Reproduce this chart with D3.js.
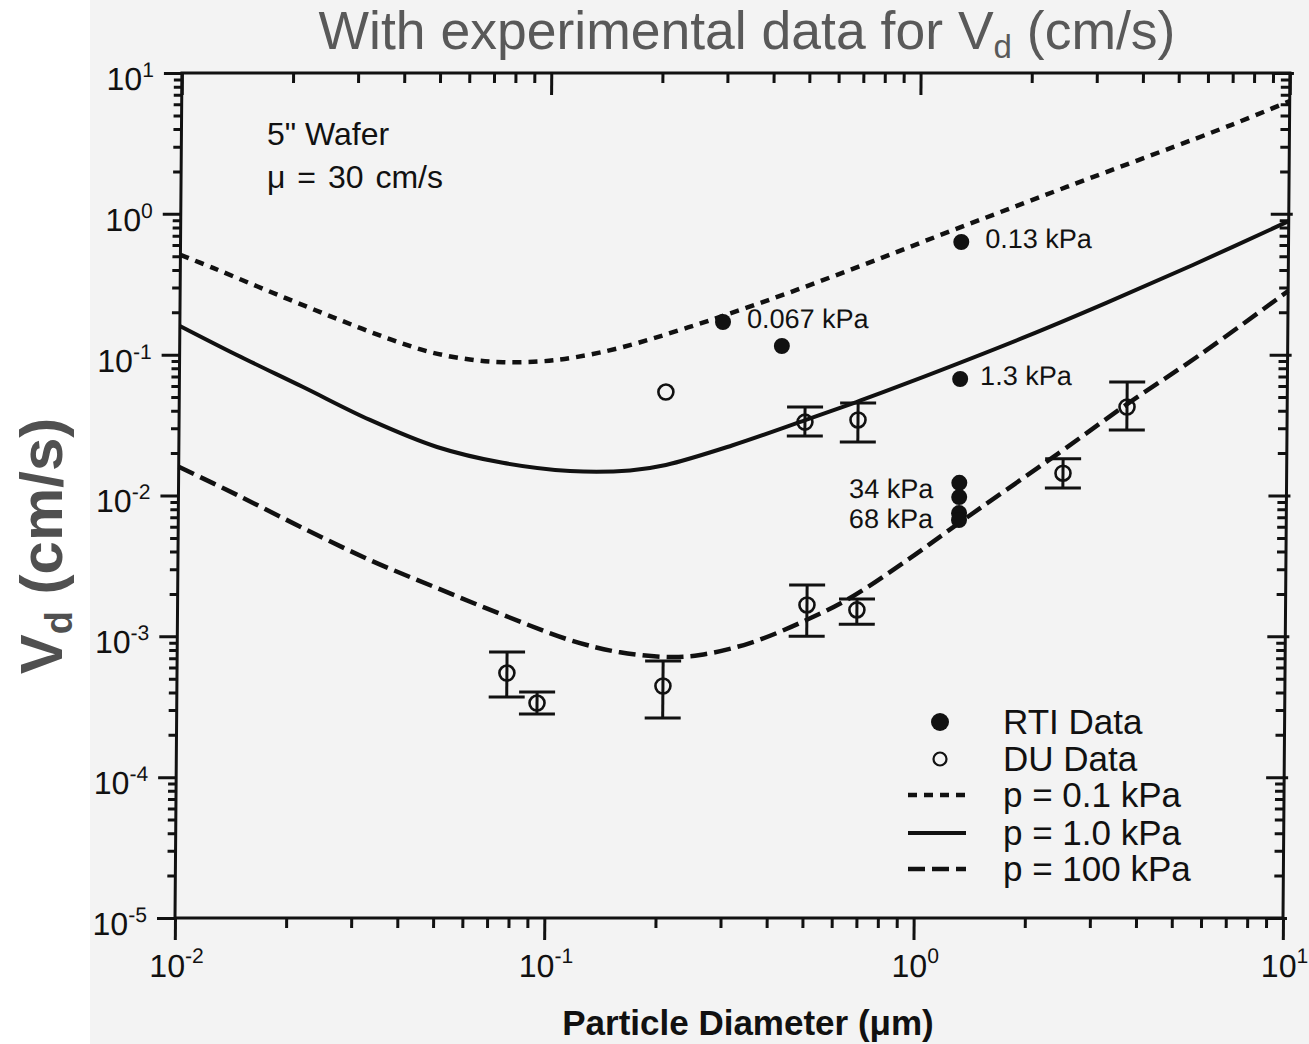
<!DOCTYPE html>
<html>
<head>
<meta charset="utf-8">
<script src="https://cdn.jsdelivr.net/npm/d3@7"></script>
<style>
  body { margin: 0; background: #fff; }
  svg { display: block; }
  text { font-family: "Liberation Sans", Arial, Helvetica, sans-serif; }
</style>
</head>
<body>
<svg id="chart" width="1309" height="1044"></svg>
<script>
// ---- model curves: deposition velocity vs particle diameter ----
const p01Diam = [0.01, 0.01226, 0.01614, 0.0211, 0.0276, 0.0364, 0.0476, 0.0611, 0.0751, 0.0946, 0.1162, 0.1557, 0.2375, 0.41, 0.704, 1.217, 2.5, 7.0, 10];
const p01Vd   = [0.511, 0.413, 0.306, 0.2296, 0.173, 0.1312, 0.1045, 0.0923, 0.0885, 0.0895, 0.0953, 0.1119, 0.156, 0.2547, 0.4325, 0.755, 1.552, 4.305, 6.32];

const p1Diam = [0.01, 0.01429, 0.02162, 0.03287, 0.05, 0.0754, 0.1147, 0.1667, 0.2085, 0.3145, 0.498, 0.697, 0.933, 1.968, 3.233, 5.514, 10];
const p1Vd   = [0.16, 0.0995, 0.0589, 0.0344, 0.0221, 0.01706, 0.01493, 0.01507, 0.01648, 0.02265, 0.0344, 0.0471, 0.0627, 0.1352, 0.234, 0.4335, 0.887];

const p100Diam = [0.01, 0.0144, 0.02178, 0.0331, 0.0504, 0.0761, 0.1157, 0.1581, 0.216, 0.2604, 0.3554, 0.506, 0.6615, 0.96, 1.308, 2.432, 3.684, 5.794, 10];
const p100Vd   = [0.016, 0.0101, 0.00587, 0.00348, 0.0022, 0.00142, 0.00094, 0.00077, 0.000713, 0.000737, 0.000896, 0.00131, 0.00187, 0.00359, 0.00645, 0.0203, 0.0445, 0.1, 0.283];

// ---- RTI measurements (filled) ----
const rtiDiam  = [0.2955, 0.427, 1.3, 1.3, 1.3, 1.3, 1.3, 1.3];
const rtiVd    = [0.1706, 0.1152, 0.631, 0.0672, 0.0123, 0.00975, 0.0075, 0.0067];
const rtiLabel = ["0.067 kPa", "", "0.13 kPa", "1.3 kPa", "34 kPa", "", "68 kPa", ""];

// ---- DU measurements (open, with error bars) ----
const duDiam = [0.2077, 0.495, 0.689, 2.48, 3.684, 0.0782, 0.0945, 0.207, 0.506, 0.691];
const duVd   = [0.0543, 0.0332, 0.0344, 0.0144, 0.0425, 0.000549, 0.000336, 0.000444, 0.00167, 0.00154];
const duLo   = [null, 0.0265, 0.0240, 0.0113, 0.0292, 0.000371, 0.000281, 0.000263, 0.0010, 0.00122];
const duHi   = [null, 0.0425, 0.0454, 0.0182, 0.0639, 0.000774, 0.000402, 0.000668, 0.00231, 0.00184];

// ---- axis ticks ----
const xTickVals = [0.01, 0.1, 1, 10];
const xTickExp  = ["-2", "-1", "0", "1"];
const yTickVals = [10, 1, 0.1, 0.01, 1e-3, 1e-4, 1e-5];
const yTickExp  = ["1", "0", "-1", "-2", "-3", "-4", "-5"];

const legendLabels = ["RTI Data", "DU Data", "p = 0.1 kPa", "p = 1.0 kPa", "p = 100 kPa"];

const W = 1309, H = 1044;
const L = 175, R = 1283, T = 73, B = 918;
const ink = "#111";

const svg = d3.select("#chart");
svg.append("rect").attr("x", 90).attr("y", 0).attr("width", W - 90).attr("height", H).attr("fill", "#f3f3f3");

const x = d3.scaleLog().domain([0.01, 10]).range([L, R]);
const y = d3.scaleLog().domain([1e-5, 10]).range([B, T]);

// the printed frame leans slightly to the right toward the top
const plot = svg.append("g").attr("transform", `translate(0,${B}) skewX(-0.47) translate(0,${-B})`);

// minor tick positions (2..9 within each decade)
const minorOf = (lo, hi) => {
  const out = [];
  for (let d = lo; d < hi * 0.999; d *= 10) for (let m = 2; m <= 9; m++) out.push(d * m);
  return out;
};
const xMinor = minorOf(0.01, 10);
const yMinor = minorOf(1e-5, 10);

function tickAxis(axisFn, scale, vals, size, tr) {
  const g = plot.append("g").attr("transform", tr)
    .call(axisFn(scale).tickValues(vals).tickSize(size).tickFormat(""));
  g.select(".domain").remove();
  g.selectAll("line").attr("stroke", ink).attr("stroke-width", 3);
  return g;
}
// bottom (outward)
tickAxis(d3.axisBottom, x, xTickVals, 22, `translate(0,${B})`);
tickAxis(d3.axisBottom, x, xMinor, 10, `translate(0,${B})`);
// top (inward)
tickAxis(d3.axisBottom, x, xTickVals, 22, `translate(0,${T})`);
tickAxis(d3.axisBottom, x, xMinor, 10, `translate(0,${T})`);
// left (outward)
tickAxis(d3.axisLeft, y, yTickVals, 18, `translate(${L},0)`);
tickAxis(d3.axisLeft, y, yMinor, 8, `translate(${L},0)`);
// right (inward, majors poke out a little)
tickAxis(d3.axisLeft, y, yTickVals, 18, `translate(${R},0)`);
tickAxis(d3.axisRight, y, yTickVals, 4, `translate(${R},0)`);
tickAxis(d3.axisLeft, y, yMinor, 9, `translate(${R},0)`);

plot.append("rect").attr("x", L).attr("y", T).attr("width", R - L).attr("height", B - T)
  .attr("fill", "none").attr("stroke", ink).attr("stroke-width", 3);

// tick labels: 10 with superscript exponent
const yLab = plot.append("g").attr("font-size", 32).attr("fill", ink).attr("text-anchor", "end");
yTickVals.forEach((v, i) => {
  const t = yLab.append("text").attr("x", L - 28).attr("y", y(v) + 17);
  t.append("tspan").text("10");
  t.append("tspan").attr("dy", -13).attr("font-size", 21).text(yTickExp[i]);
});
const xLab = plot.append("g").attr("font-size", 32).attr("fill", ink).attr("text-anchor", "middle");
xTickVals.forEach((v, i) => {
  const t = xLab.append("text").attr("x", x(v) + 2).attr("y", 977);
  t.append("tspan").text("10");
  t.append("tspan").attr("dy", -14).attr("font-size", 21).text(xTickExp[i]);
});

// model curves
const line = d3.line().x(d => x(d[0])).y(d => y(d[1])).curve(d3.curveCatmullRom.alpha(0.5));
const curves = [
  { d: d3.zip(p01Diam, p01Vd), w: 4.5, dash: "9,7" },
  { d: d3.zip(p1Diam, p1Vd), w: 4, dash: null },
  { d: d3.zip(p100Diam, p100Vd), w: 4.5, dash: "17,7" }
];
plot.append("g").selectAll("path").data(curves).join("path")
  .attr("d", c => line(c.d))
  .attr("fill", "none").attr("stroke", ink)
  .attr("stroke-width", c => c.w)
  .attr("stroke-dasharray", c => c.dash);

// DU error bars and open circles
const du = duDiam.map((d, i) => ({ d, v: duVd[i], lo: duLo[i], hi: duHi[i] }));
const duG = plot.append("g").attr("stroke", ink).attr("fill", "none");
du.filter(p => p.lo !== null).forEach(p => {
  const cx = x(p.d);
  duG.append("line").attr("x1", cx).attr("x2", cx).attr("y1", y(p.lo)).attr("y2", y(p.hi)).attr("stroke-width", 3);
  [p.lo, p.hi].forEach(e => duG.append("line")
    .attr("x1", cx - 18).attr("x2", cx + 18).attr("y1", y(e)).attr("y2", y(e)).attr("stroke-width", 3));
});
duG.selectAll("circle").data(du).join("circle")
  .attr("cx", p => x(p.d)).attr("cy", p => y(p.v)).attr("r", 7.5).attr("stroke-width", 2.6);

// RTI filled dots with pressure labels
const rti = rtiDiam.map((d, i) => ({ d, v: rtiVd[i], label: rtiLabel[i] }));
plot.append("g").selectAll("circle").data(rti).join("circle")
  .attr("cx", p => x(p.d)).attr("cy", p => y(p.v)).attr("r", 8).attr("fill", ink);
const leftSide = new Set(["34 kPa", "68 kPa"]);
plot.append("g").attr("font-size", 27).attr("fill", ink)
  .selectAll("text").data(rti.filter(p => p.label)).join("text")
  .attr("text-anchor", p => leftSide.has(p.label) ? "end" : "start")
  .attr("x", p => x(p.d) + (leftSide.has(p.label) ? -26 : (p.label === "1.3 kPa" ? 20 : 24)))
  .attr("y", p => y(p.v) + (leftSide.has(p.label) ? 15 : 6))
  .text(p => p.label);

// conditions note
const note = svg.append("g").attr("font-size", 32).attr("fill", ink);
note.append("text").attr("x", 267).attr("y", 145).text("5\" Wafer");
note.append("text").attr("x", 267).attr("y", 188).attr("word-spacing", 3).text("\u03bc = 30 cm/s");

// legend
const lg = svg.append("g").attr("fill", ink);
const rowY = [722, 759, 795, 833, 869];
lg.append("circle").attr("cx", 940).attr("cy", rowY[0]).attr("r", 9).attr("fill", ink);
lg.append("circle").attr("cx", 940).attr("cy", rowY[1]).attr("r", 6.5).attr("fill", "none").attr("stroke", ink).attr("stroke-width", 2.2);
curves.forEach((c, i) => {
  lg.append("line").attr("x1", 908).attr("x2", 966).attr("y1", rowY[i + 2]).attr("y2", rowY[i + 2])
    .attr("stroke", ink).attr("stroke-width", c.w).attr("stroke-dasharray", c.dash);
});
lg.selectAll("text").data(legendLabels).join("text")
  .attr("x", 1003).attr("y", (d, i) => rowY[i] + 12).attr("font-size", 35).text(d => d);

// axis titles
svg.append("text").attr("x", 748).attr("y", 1035).attr("text-anchor", "middle")
  .attr("font-size", 35).attr("font-weight", "bold").attr("fill", ink).text("Particle Diameter (\u03bcm)");

const yt = svg.append("text").attr("transform", "translate(62,546) rotate(-90)")
  .attr("text-anchor", "middle").attr("font-size", 60).attr("font-weight", "bold").attr("fill", "#505050");
yt.append("tspan").text("V");
yt.append("tspan").attr("font-size", 38).attr("dy", 10).text("d");
yt.append("tspan").attr("dy", -10).text(" (cm/s)");

const title = svg.append("text").attr("x", 747).attr("y", 49).attr("text-anchor", "middle")
  .attr("font-size", 53.5).attr("fill", "#595959");
title.append("tspan").text("With experimental data for V");
title.append("tspan").attr("font-size", 33).attr("dy", 9).text("d");
title.append("tspan").attr("dy", -9).text(" (cm/s)");
</script>
</body>
</html>
